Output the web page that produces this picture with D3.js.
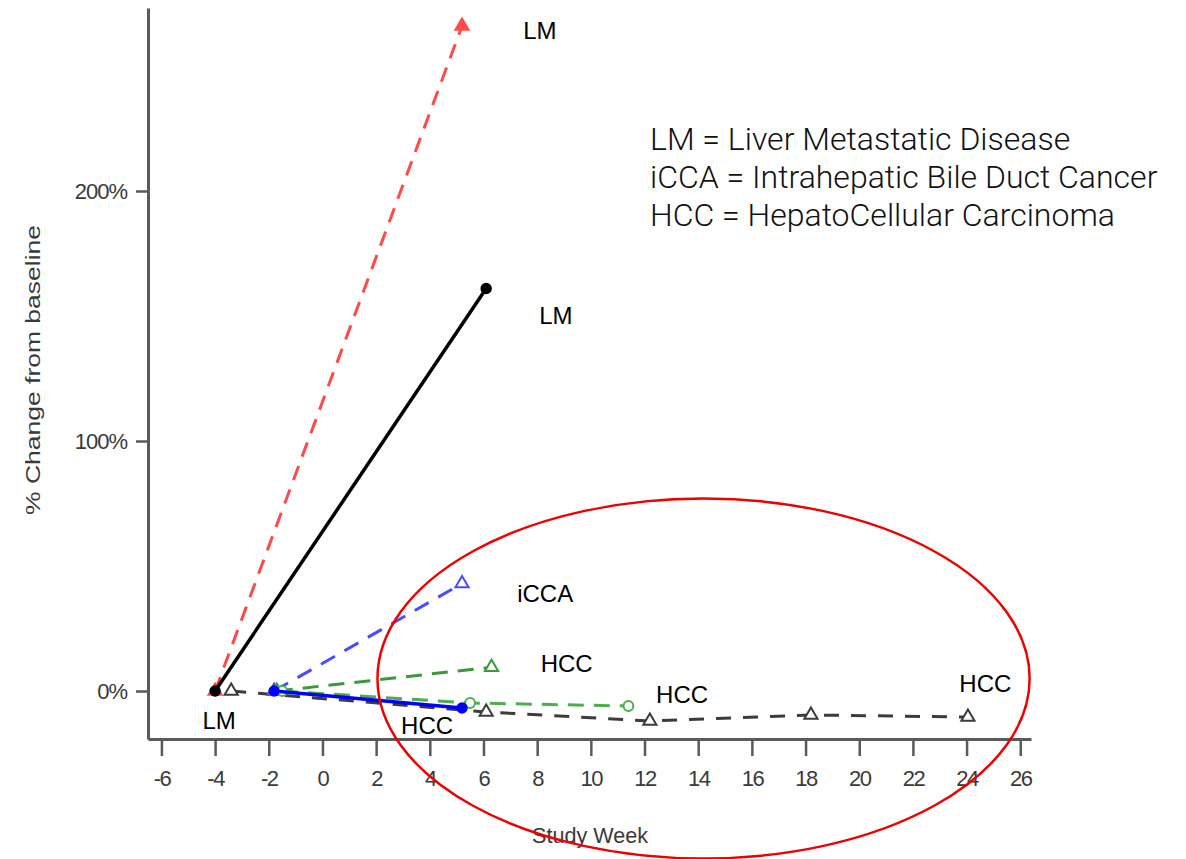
<!DOCTYPE html>
<html>
<head>
<meta charset="utf-8">
<script src="https://cdn.jsdelivr.net/npm/d3@7"></script>
<style>
  body { margin: 0; background: #fff; }
  svg { display: block; }
</style>
</head>
<body>
<svg id="chart" width="1186" height="859"></svg>
<script>
// study weeks vs % change from baseline, one array pair per patient
var lmRedWeeks = [-4, 5.2], lmRedPct = [0, 266];
var lmBlackWeeks = [-4, 6.1], lmBlackPct = [0, 161];
var iccaWeeks = [-1.8, 5.2], iccaPct = [0, 43];
var hccTriWeeks = [-1.7, 6.3], hccTriPct = [0, 9.5];
var hccCircWeeks = [-1.5, 5.5, 11.4], hccCircPct = [0, -4.8, -6];
var hccBlueWeeks = [-1.8, 5.2], hccBluePct = [0, -6.8];
var hccGreyWeeks = [-3.4, 6.1, 12.2, 18.2, 24.05], hccGreyPct = [0, -8.4, -12, -9.6, -10.4];

var xTicks = [-6, -4, -2, 0, 2, 4, 6, 8, 10, 12, 14, 16, 18, 20, 22, 24, 26];
var yTicks = [0, 100, 200];

var legendLines = [
  "LM = Liver Metastatic Disease",
  "iCCA = Intrahepatic Bile Duct Cancer",
  "HCC = HepatoCellular Carcinoma"
];

// labels placed in data units (week, pct)
var labelText = ["LM", "LM", "LM", "iCCA", "HCC", "HCC", "HCC", "HCC"];
var labelWeek = [8.1, 8.7, -3.85, 8.3, 9.1, 13.4, 24.7, 3.9];
var labelPct = [264, 150, -12, 39, 11, -1.5, 3, -14];

// highlight ellipse: centre week/pct and radii in same units
var ringWeek = 14.2, ringPct = 5, ringRWeeks = 12.15, ringRPct = 72;

var svg = d3.select("#chart");
var plotL = 148, plotR = 1031, plotT = 8, plotB = 739;

var x = d3.scaleLinear().domain([-6.5, 26.4]).range([plotL, plotR]);
var y = d3.scaleLinear().domain([-19.2, 273.2]).range([plotB, plotT]);

var axisColor = "#5a5a5a";

// axes
var gx = svg.append("g").attr("transform", "translate(0," + plotB + ")")
  .call(d3.axisBottom(x).tickValues(xTicks).tickSize(17).tickPadding(14).tickSizeOuter(0)
    .tickFormat(function(d){ return String(d); }));
var gy = svg.append("g").attr("transform", "translate(" + plotL + ",0)")
  .call(d3.axisLeft(y).tickValues(yTicks).tickSize(12).tickPadding(9).tickSizeOuter(0)
    .tickFormat(function(d){ return d + "%"; }));

[gx, gy].forEach(function(g){
  g.select(".domain").attr("stroke", axisColor).attr("stroke-width", 3);
  g.selectAll(".tick line").attr("stroke", axisColor).attr("stroke-width", 2.5);
  g.selectAll(".tick text")
    .attr("fill", "#3a3a3a")
    .style("font-family", "'Liberation Sans', Arial, sans-serif")
    .style("font-size", "22px")
    .style("letter-spacing", "-1.5px");
});
gy.selectAll(".tick text").style("letter-spacing", "-1px");

svg.append("text")
  .attr("transform", "translate(40,370) rotate(-90)")
  .attr("text-anchor", "middle")
  .attr("fill", "#3a3a3a")
  .attr("textLength", 290)
  .attr("lengthAdjust", "spacingAndGlyphs")
  .style("font-family", "'Liberation Sans', Arial, sans-serif")
  .style("font-size", "20px")
  .text("% Change from baseline");

svg.append("text")
  .attr("x", 590).attr("y", 843)
  .attr("text-anchor", "middle")
  .attr("fill", "#3a3a3a")
  .attr("textLength", 116)
  .attr("lengthAdjust", "spacingAndGlyphs")
  .style("font-family", "'Liberation Sans', Arial, sans-serif")
  .style("font-size", "22px")
  .text("Study Week");

// series
var zip = function(ws, ps){ return ws.map(function(w, i){ return [w, ps[i]]; }); };
var line = d3.line().x(function(d){ return x(d[0]); }).y(function(d){ return y(d[1]); });

var series = [
  { pts: zip(hccGreyWeeks, hccGreyPct), color: "#3c3c3c", dash: "15,12", marker: "tri", fill: false },
  { pts: zip(lmRedWeeks, lmRedPct), color: "#ff4a4a", dash: "15,10", marker: "tri", fill: true },
  { pts: zip(lmBlackWeeks, lmBlackPct), color: "#000", dash: null, marker: "dot", fill: true },
  { pts: zip(iccaWeeks, iccaPct), color: "#4a4aff", dash: "16,11", marker: "tri", fill: false },
  { pts: zip(hccTriWeeks, hccTriPct), color: "#3a9a3a", dash: "16,10", marker: "tri", fill: false },
  { pts: zip(hccCircWeeks, hccCircPct), color: "#4cae4c", dash: "16,10", marker: "circ", fill: false },
  { pts: zip(hccBlueWeeks, hccBluePct), color: "#0000ff", dash: null, marker: "dot", fill: true }
];

series.forEach(function(s){
  svg.append("path")
    .attr("d", line(s.pts))
    .attr("fill", "none")
    .attr("stroke", s.color)
    .attr("stroke-width", s.dash ? 3 : 3.5)
    .attr("stroke-dasharray", s.dash);

  var sym = s.marker === "tri" ? d3.symbolTriangle : d3.symbolCircle;
  var size = s.marker === "dot" ? 70 : 75;
  svg.selectAll(null).data(s.pts).enter().append("path")
    .attr("transform", function(d){ return "translate(" + x(d[0]) + "," + y(d[1]) + ")"; })
    .attr("d", d3.symbol().type(sym).size(size))
    .attr("fill", s.fill ? s.color : "#fff")
    .attr("stroke", s.color)
    .attr("stroke-width", 2);
});

// labels
svg.selectAll(null).data(labelText).enter().append("text")
  .attr("x", function(d, i){ return x(labelWeek[i]); })
  .attr("y", function(d, i){ return y(labelPct[i]); })
  .attr("text-anchor", "middle")
  .attr("dy", "0.35em")
  .attr("fill", "#000")
  .style("font-family", "'Liberation Sans', Arial, sans-serif")
  .style("font-size", "24px")
  .text(function(d){ return d; });

// legend text
svg.selectAll(null).data(legendLines).enter().append("text")
  .attr("x", 650)
  .attr("y", function(d, i){ return 150 + i * 38; })
  .attr("fill", "#111")
  .style("font-family", "Roboto, sans-serif")
  .style("font-weight", 300)
  .style("font-size", "32px")
  .text(function(d){ return d; });

// red highlight ring
svg.append("ellipse")
  .attr("cx", x(ringWeek)).attr("cy", y(ringPct))
  .attr("rx", x(ringWeek + ringRWeeks) - x(ringWeek))
  .attr("ry", y(ringPct) - y(ringPct + ringRPct))
  .attr("fill", "none")
  .attr("stroke", "#ee0000")
  .attr("stroke-width", 2.5);
</script>
</body>
</html>
